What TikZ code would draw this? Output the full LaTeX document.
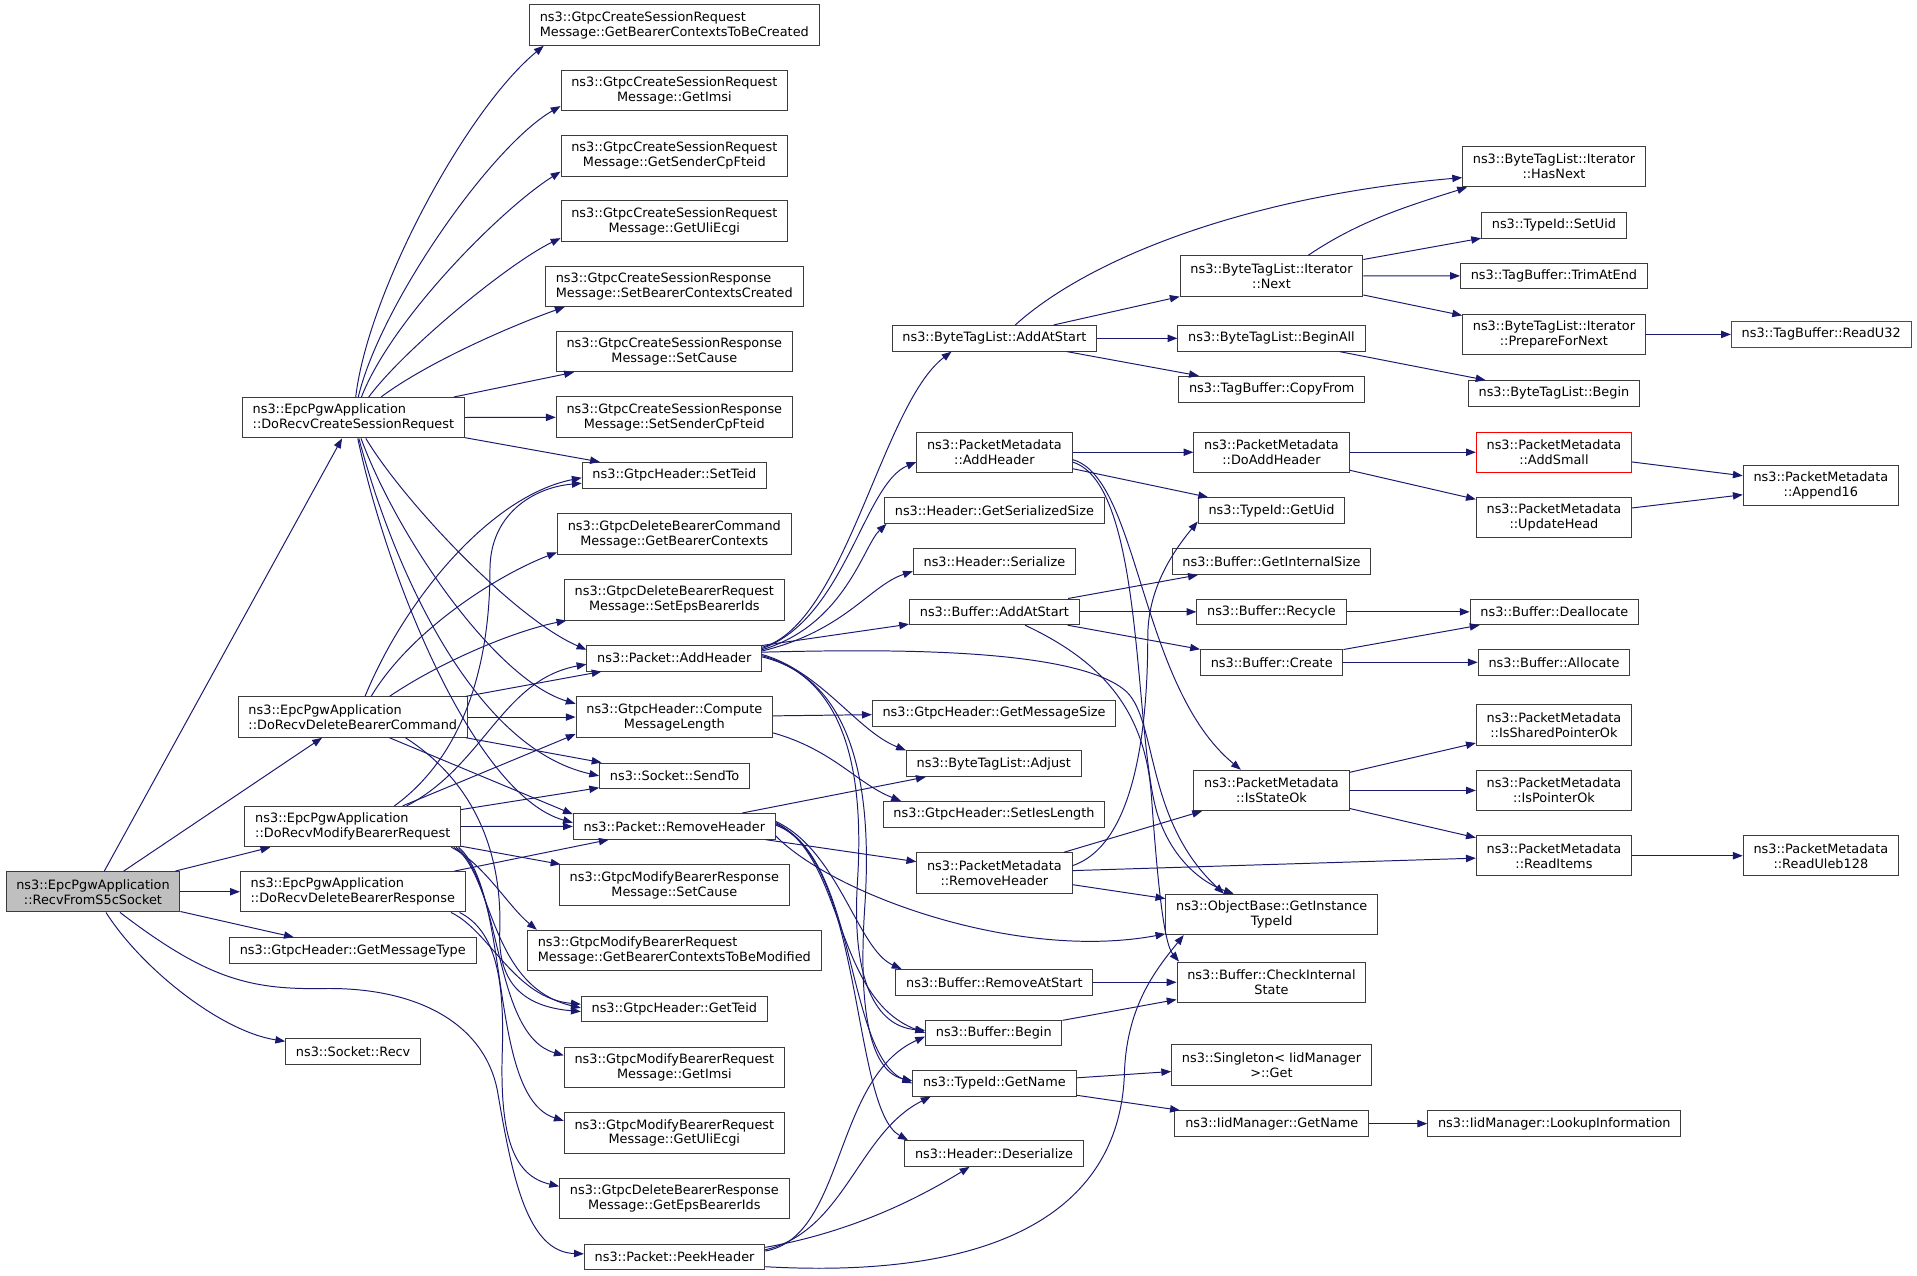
\documentclass[tikz,border=0pt]{standalone}
\usepackage{fontspec}
\setmainfont{DejaVu Sans}
\usetikzlibrary{arrows.meta}
\definecolor{edgeblue}{RGB}{25,25,112}
\definecolor{boxline}{RGB}{60,60,60}
\definecolor{rootgray}{RGB}{191,191,191}
\newcommand\fnfont{\fontsize{10.5}{12.2}\selectfont}

\begin{document}
\begin{tikzpicture}[x=1pt,y=1pt,
  fn/.style={draw=boxline, line width=0.8pt, fill=white, inner xsep=8.4pt, inner ysep=0pt, minimum height=21pt, font=\fnfont},
  fntwo/.style={fn, align=center, minimum height=33pt},
  fnleft/.style={fn, align=left, minimum height=33pt},
  root/.style={fill=rootgray},
  cut/.style={draw=red},
  call/.style={draw=edgeblue, line width=0.8pt, -{Triangle[length=8pt,width=6pt]}}]
\useasboundingbox (0,0) rectangle (1565,-1041.6);

\node [fntwo, root] (recv) at (75.9,-728) {ns3::EpcPgwApplication\\::RecvFromS5cSocket};
\node [fnleft] (dcsr) at (288.5,-341) {ns3::EpcPgwApplication\\::DoRecvCreateSessionRequest};
\node [fnleft] (ddbc) at (288,-585.4) {ns3::EpcPgwApplication\\::DoRecvDeleteBearerCommand};
\node [fnleft] (dmbr) at (288,-674.8) {ns3::EpcPgwApplication\\::DoRecvModifyBearerRequest};
\node [fnleft] (ddbr) at (288,-728) {ns3::EpcPgwApplication\\::DoRecvDeleteBearerResponse};
\node [fn] (gmt) at (288,-776) {ns3::GtpcHeader::GetMessageType};
\node [fn] (srecv) at (288.3,-858.6) {ns3::Socket::Recv};

\node [fnleft] (c1) at (550.5,-20.5) {ns3::GtpcCreateSessionRequest\\Message::GetBearerContextsToBeCreated};
\node [fntwo] (c2) at (550.5,-73.7) {ns3::GtpcCreateSessionRequest\\Message::GetImsi};
\node [fntwo] (c3) at (550.5,-127.2) {ns3::GtpcCreateSessionRequest\\Message::GetSenderCpFteid};
\node [fntwo] (c4) at (550.5,-180.5) {ns3::GtpcCreateSessionRequest\\Message::GetUliEcgi};
\node [fnleft] (c5) at (550.5,-233.7) {ns3::GtpcCreateSessionResponse\\Message::SetBearerContextsCreated};
\node [fntwo] (c6) at (550.5,-287) {ns3::GtpcCreateSessionResponse\\Message::SetCause};
\node [fntwo] (c7) at (550.5,-340.5) {ns3::GtpcCreateSessionResponse\\Message::SetSenderCpFteid};
\node [fn] (settied) at (550.5,-388) {ns3::GtpcHeader::SetTeid};
\node [fntwo] (c9) at (550.5,-436) {ns3::GtpcDeleteBearerCommand\\Message::GetBearerContexts};
\node [fntwo] (c10) at (550.5,-489.7) {ns3::GtpcDeleteBearerRequest\\Message::SetEpsBearerIds};
\node [fn] (p_add) at (550.5,-537.3) {ns3::Packet::AddHeader};
\node [fntwo] (compute) at (550.5,-585.4) {ns3::GtpcHeader::Compute\\MessageLength};
\node [fn] (sendto) at (550.7,-633.4) {ns3::Socket::SendTo};
\node [fn] (p_rem) at (550.5,-674.6) {ns3::Packet::RemoveHeader};
\node [fntwo] (mbresp) at (550.5,-722.5) {ns3::GtpcModifyBearerResponse\\Message::SetCause};
\node [fnleft] (mbr_ctx) at (550.5,-775.9) {ns3::GtpcModifyBearerRequest\\Message::GetBearerContextsToBeModified};
\node [fn] (getteid) at (550.5,-823.8) {ns3::GtpcHeader::GetTeid};
\node [fntwo] (mbr_imsi) at (550.5,-871.5) {ns3::GtpcModifyBearerRequest\\Message::GetImsi};
\node [fntwo] (mbr_uli) at (550.5,-924.9) {ns3::GtpcModifyBearerRequest\\Message::GetUliEcgi};
\node [fntwo] (dbr_eps) at (550.5,-978.4) {ns3::GtpcDeleteBearerResponse\\Message::GetEpsBearerIds};
\node [fn] (peek) at (550.7,-1026.2) {ns3::Packet::PeekHeader};

\node [fn] (bal_add) at (811.8,-276.2) {ns3::ByteTagList::AddAtStart};
\node [fntwo] (pm_add) at (811.8,-369.2) {ns3::PacketMetadata\\::AddHeader};
\node [fn] (gss) at (811.8,-416.8) {ns3::Header::GetSerializedSize};
\node [fn] (ser) at (811.8,-458.5) {ns3::Header::Serialize};
\node [fn] (buf_add) at (811.8,-499.5) {ns3::Buffer::AddAtStart};
\node [fn] (gms) at (811.5,-582.2) {ns3::GtpcHeader::GetMessageSize};
\node [fn] (adj) at (811.3,-623.4) {ns3::ByteTagList::Adjust};
\node [fn] (sil) at (811.5,-664.8) {ns3::GtpcHeader::SetIesLength};
\node [fntwo] (pm_rem) at (811.8,-712.7) {ns3::PacketMetadata\\::RemoveHeader};
\node [fn] (buf_rem) at (811.8,-801.9) {ns3::Buffer::RemoveAtStart};
\node [fn] (buf_begin) at (811.3,-843.2) {ns3::Buffer::Begin};
\node [fn] (tid_name) at (811.8,-884.4) {ns3::TypeId::GetName};
\node [fn] (deser) at (811.5,-941.7) {ns3::Header::Deserialize};

\node [fntwo] (next) at (1038,-225.3) {ns3::ByteTagList::Iterator\\::Next};
\node [fn] (beginall) at (1038,-276.2) {ns3::ByteTagList::BeginAll};
\node [fn] (copyfrom) at (1038.2,-317.7) {ns3::TagBuffer::CopyFrom};
\node [fntwo] (doadd) at (1038,-369.2) {ns3::PacketMetadata\\::DoAddHeader};
\node [fn] (getuid) at (1038,-416.8) {ns3::TypeId::GetUid};
\node [fn] (gis) at (1038,-458.5) {ns3::Buffer::GetInternalSize};
\node [fn] (recycle) at (1038,-499.5) {ns3::Buffer::Recycle};
\node [fn] (create) at (1038.2,-540.7) {ns3::Buffer::Create};
\node [fntwo] (isstate) at (1038,-645.3) {ns3::PacketMetadata\\::IsStateOk};
\node [fntwo] (gitid) at (1038.2,-746.5) {ns3::ObjectBase::GetInstance\\TypeId};
\node [fntwo] (cis) at (1038,-801.9) {ns3::Buffer::CheckInternal\\State};
\node [fntwo] (singleton) at (1038,-869.3) {ns3::Singleton< IidManager\\ >::Get};
\node [fn] (iid_name) at (1038.2,-917.3) {ns3::IidManager::GetName};

\node [fntwo] (hasnext) at (1268.6,-136) {ns3::ByteTagList::Iterator\\::HasNext};
\node [fn] (setuid) at (1268.6,-183.8) {ns3::TypeId::SetUid};
\node [fn] (trim) at (1268.6,-225.2) {ns3::TagBuffer::TrimAtEnd};
\node [fntwo] (prep) at (1268.6,-273) {ns3::ByteTagList::Iterator\\::PrepareForNext};
\node [fn] (btl_begin) at (1268.6,-321.2) {ns3::ByteTagList::Begin};
\node [fntwo, cut] (addsmall) at (1268.6,-369.2) {ns3::PacketMetadata\\::AddSmall};
\node [fntwo] (updhead) at (1268.6,-422.3) {ns3::PacketMetadata\\::UpdateHead};
\node [fn] (dealloc) at (1268.9,-499.5) {ns3::Buffer::Deallocate};
\node [fn] (alloc) at (1268.6,-540.7) {ns3::Buffer::Allocate};
\node [fntwo] (isshared) at (1268.6,-591.8) {ns3::PacketMetadata\\::IsSharedPointerOk};
\node [fntwo] (isptr) at (1268.6,-645.3) {ns3::PacketMetadata\\::IsPointerOk};
\node [fntwo] (readitems) at (1268.6,-698.6) {ns3::PacketMetadata\\::ReadItems};
\node [fn] (lookup) at (1268.9,-917.3) {ns3::IidManager::LookupInformation};

\node [fn, cut] (readu32) at (1486.8,-273) {ns3::TagBuffer::ReadU32};
\node [fntwo] (append16) at (1486.5,-396.3) {ns3::PacketMetadata\\::Append16};
\node [fntwo] (uleb) at (1486.5,-698.6) {ns3::PacketMetadata\\::ReadUleb128};

\draw [call] (recv) -- (dcsr); \draw [call] (recv) -- (ddbc); \draw [call] (recv) -- (dmbr);
\draw [call] (recv) -- (ddbr); \draw [call] (recv) -- (gmt);
\draw [call] (recv) .. controls (115,-790) and (180,-842) .. (srecv);
\draw [call] (recv) .. controls (170,-800) and (205,-808) .. (265,-807) .. controls (340,-806) and (395,-835) .. (406,-890) .. controls (418,-960) and (430,-1022) .. (peek);

\draw [call] (dcsr) .. controls (300,-240) and (380,-90) .. ([xshift=12pt]c1.south west);
\draw [call] (dcsr) .. controls (310,-250) and (400,-120) .. ([yshift=4pt]c2.south west);
\draw [call] (dcsr) .. controls (320,-260) and (410,-170) .. ([yshift=4pt]c3.south west);
\draw [call] (dcsr) .. controls (330,-285) and (415,-215) .. ([yshift=3pt]c4.south west);
\draw [call] (dcsr) .. controls (350,-295) and (420,-265) .. ([xshift=16pt]c5.south west);
\draw [call] (dcsr) -- (c6); \draw [call] (dcsr) -- (c7); \draw [call] (dcsr) -- (settied);
\draw [call] (dcsr) .. controls (330,-410) and (420,-505) .. ([yshift=-4pt]p_add.north west);
\draw [call] (dcsr) .. controls (325,-440) and (405,-555) .. ([yshift=-6pt]compute.north west);
\draw [call] (dcsr) .. controls (320,-460) and (385,-610) .. (sendto.west);
\draw [call] (dcsr) .. controls (318,-480) and (390,-650) .. ([yshift=3pt]p_rem.west);

\draw [call] ([xshift=10pt]ddbc.north) .. controls (330,-490) and (400,-405) .. ([yshift=-2pt]settied.west);
\draw [call] ([xshift=15pt]ddbc.north) .. controls (335,-515) and (405,-470) .. ([yshift=2pt]c9.south west);
\draw [call] ([xshift=30pt]ddbc.north) .. controls (360,-540) and (420,-515) .. ([xshift=2pt]c10.south west);
\draw [call] (ddbc) -- (p_add); \draw [call] (ddbc) -- (compute); \draw [call] (ddbc) -- (sendto);
\draw [call] ([xshift=30pt]ddbc.south) -- ([yshift=-1pt]p_rem.north west);
\draw [call] ([xshift=43pt]ddbc.south) .. controls (390,-640) and (410,-700) .. (408,-760) .. controls (406,-805) and (430,-822) .. ([yshift=-2pt]getteid.west);

\draw [call] ([xshift=34pt]dmbr.north) .. controls (385,-612) and (400,-530) .. (400,-465) .. controls (400,-420) and (435,-398) .. ([yshift=-6.5pt]settied.west);
\draw [call] ([xshift=44pt]dmbr.north) .. controls (395,-625) and (410,-555) .. ([yshift=-5pt]p_add.west);
\draw [call] (dmbr) -- ([yshift=3pt]compute.south west);
\draw [call] (dmbr) -- (sendto); \draw [call] (dmbr) -- (p_rem); \draw [call] (dmbr) -- (mbresp);
\draw [call] ([xshift=-8pt]dmbr.south east) .. controls (395,-705) and (415,-740) .. ([xshift=8pt]mbr_ctx.north west);
\draw [call] ([xshift=-6pt]dmbr.south east) .. controls (402,-710) and (398,-805) .. ([yshift=1pt]getteid.west);
\draw [call] ([xshift=-4pt]dmbr.south east) .. controls (410,-720) and (402,-845) .. ([yshift=-7pt]mbr_imsi.north west);
\draw [call] ([xshift=-2pt]dmbr.south east) .. controls (418,-730) and (398,-895) .. ([yshift=-7pt]mbr_uli.north west);

\draw [call] (ddbr) -- (p_rem);
\draw [call] ([xshift=-12pt]ddbr.south east) .. controls (400,-760) and (420,-815) .. ([yshift=4pt]getteid.west);
\draw [call] ([xshift=-5pt]ddbr.south east) .. controls (405,-760) and (412,-800) .. (410,-860) .. controls (408,-930) and (420,-960) .. ([yshift=-7pt]dbr_eps.north west);

\draw [call] ([yshift=-2pt]p_add.north east) .. controls (690,-510) and (720,-330) .. ([xshift=-35pt]bal_add.south);
\draw [call] ([yshift=-3pt]p_add.north east) .. controls (690,-505) and (705,-395) .. ([yshift=-8pt]pm_add.west);
\draw [call] ([yshift=-4pt]p_add.north east) .. controls (690,-510) and (705,-445) .. ([xshift=2pt]gss.south west);
\draw [call] ([yshift=-5pt]p_add.north east) .. controls (690,-515) and (710,-478) .. ([yshift=3pt]ser.south west);
\draw [call] (p_add) -- (buf_add);
\draw [call] ([yshift=-6pt]p_add.north east) .. controls (720,-530) and (880,-528) .. (920,-565) .. controls (945,-590) and (935,-670) .. ([xshift=-39pt]gitid.north);
\draw [call] ([yshift=3pt]p_add.east) .. controls (670,-548) and (700,-597) .. (adj.north west);
\draw [call] ([yshift=2pt]p_add.east) .. controls (695,-555) and (705,-640) .. (700,-720) .. controls (695,-800) and (715,-838) .. ([yshift=2pt]buf_begin.west);
\draw [call] ([yshift=1pt]p_add.east) .. controls (700,-555) and (712,-650) .. (706,-740) .. controls (700,-830) and (712,-875) .. ([yshift=2pt]tid_name.west);

\draw [call] (p_rem) -- (adj); \draw [call] (p_rem) -- (pm_rem);
\draw [call] ([yshift=3pt]p_rem.south east) .. controls (680,-730) and (830,-785) .. ([yshift=1pt]gitid.south west);
\draw [call] ([yshift=4pt]p_rem.east) .. controls (685,-695) and (700,-775) .. ([xshift=5pt]buf_rem.north west);
\draw [call] ([yshift=3pt]p_rem.east) .. controls (690,-700) and (680,-815) .. (buf_begin.west);
\draw [call] ([yshift=2pt]p_rem.east) .. controls (700,-700) and (690,-860) .. (tid_name.west);
\draw [call] ([yshift=1pt]p_rem.east) .. controls (705,-700) and (695,-905) .. ([xshift=3pt]deser.north west);

\draw [call] ([yshift=-3pt]peek.north east) .. controls (700,-1005) and (755,-975) .. ([xshift=-20pt]deser.south);
\draw [call] ([yshift=-5pt]peek.north east) .. controls (690,-1005) and (700,-925) .. ([xshift=15pt]tid_name.south west);
\draw [call] ([yshift=-6pt]peek.north east) .. controls (690,-1010) and (680,-880) .. ([yshift=-3pt]buf_begin.west);
\draw [call] ([yshift=3pt]peek.south east) .. controls (820,-1045) and (915,-985) .. (918,-875) .. controls (920,-820) and (945,-790) .. ([xshift=15pt]gitid.south west);

\draw [call] (compute) -- (gms);
\draw [call] ([yshift=4pt]compute.south east) .. controls (680,-612) and (700,-640) .. ([xshift=15pt]sil.north west);

\draw [call] ([xshift=17pt]bal_add.north) .. controls (890,-210) and (1020,-160) .. ([yshift=-9pt]hasnext.west);
\draw [call] (bal_add) -- (next); \draw [call] (bal_add) -- (beginall); \draw [call] (bal_add) -- (copyfrom);
\draw [call] ([xshift=30pt]next.north) .. controls (1110,-180) and (1150,-168) .. ([xshift=4pt]hasnext.south west);
\draw [call] (next) -- (setuid); \draw [call] (next) -- (trim); \draw [call] (next) -- (prep);
\draw [call] (prep) -- (readu32); \draw [call] (beginall) -- (btl_begin);

\draw [call] (pm_add) -- (doadd); \draw [call] (pm_add) -- (getuid);
\draw [call] ([yshift=-6pt]pm_add.east) .. controls (930,-390) and (930,-560) .. ([xshift=-25pt]isstate.north);
\draw [call] ([yshift=-8pt]pm_add.east) .. controls (935,-395) and (925,-600) .. (945,-665) .. controls (958,-705) and (985,-722) .. ([xshift=-31pt]gitid.north);

\draw [call] (buf_add) -- (gis); \draw [call] (buf_add) -- (recycle); \draw [call] (buf_add) -- (create);
\draw [call] ([xshift=25pt]buf_add.south) .. controls (900,-540) and (935,-580) .. (940,-650) .. controls (945,-720) and (950,-770) .. ([xshift=2pt]cis.north west);
\draw [call] (recycle) -- (dealloc); \draw [call] (create) -- (dealloc); \draw [call] (create) -- (alloc);
\draw [call] (doadd) -- (addsmall); \draw [call] (doadd) -- (updhead);
\draw [call] (addsmall) -- (append16); \draw [call] (updhead) -- (append16);
\draw [call] (isstate) -- (isshared); \draw [call] (isstate) -- (isptr); \draw [call] (isstate) -- (readitems);
\draw [call] (readitems) -- (uleb);
\draw [call] (pm_rem) -- (isstate); \draw [call] (pm_rem) -- (readitems); \draw [call] (pm_rem) -- (gitid);
\draw [call] ([yshift=6pt]pm_rem.east) .. controls (925,-690) and (937,-600) .. (937,-520) .. controls (937,-480) and (958,-450) .. ([yshift=2pt]getuid.south west);
\draw [call] (buf_rem) -- (cis); \draw [call] (buf_begin) -- (cis);
\draw [call] (tid_name) -- (singleton); \draw [call] (tid_name) -- (iid_name);
\draw [call] (iid_name) -- (lookup);
\end{tikzpicture}
\end{document}
